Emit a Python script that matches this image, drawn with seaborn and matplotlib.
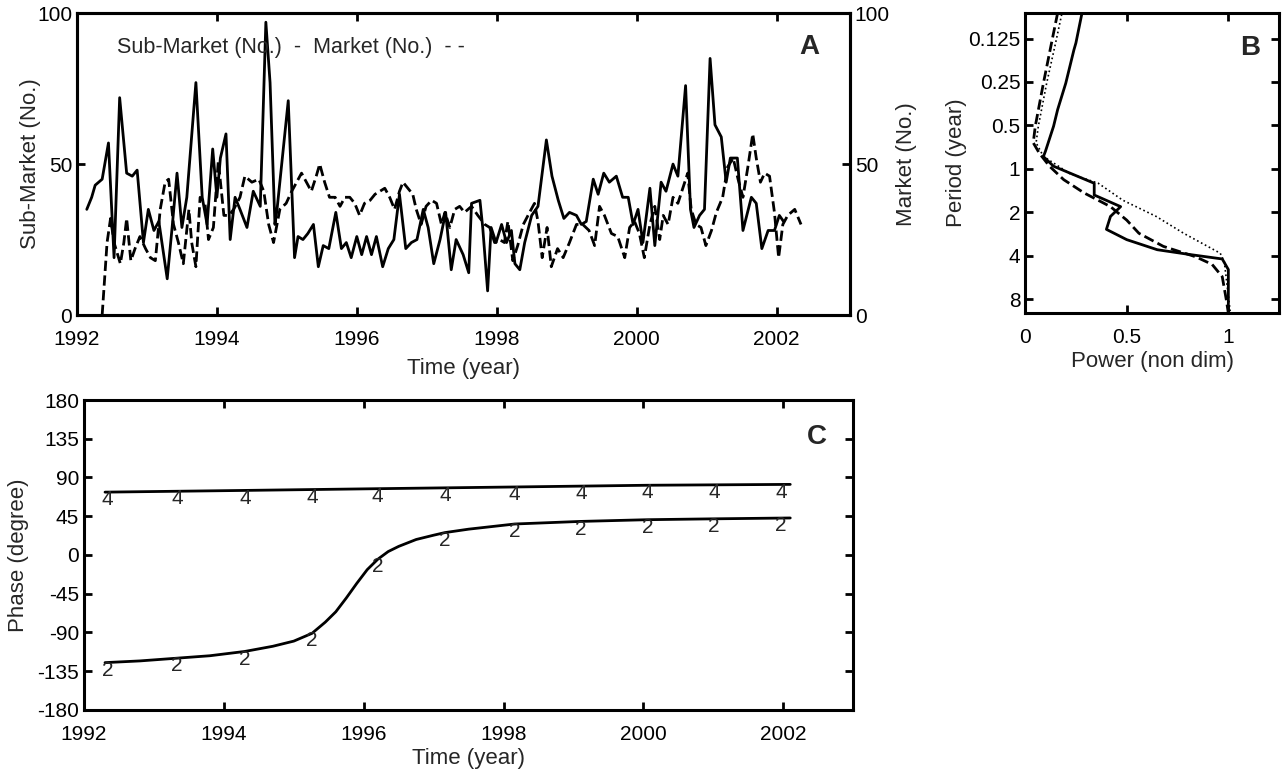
import numpy as np
import pandas as pd
import matplotlib
matplotlib.use('Agg')
import matplotlib.pyplot as plt
import seaborn as sns

# ---- Panel A: monthly counts ----
sub_time = [1992.14, 1992.21, 1992.26, 1992.36, 1992.45, 1992.53, 1992.61, 1992.71, 1992.79,
            1992.86, 1992.95, 1993.02, 1993.10, 1993.17, 1993.29, 1993.36, 1993.43, 1993.50,
            1993.57, 1993.70, 1993.79, 1993.86, 1993.94, 1994.00, 1994.05, 1994.13, 1994.19,
            1994.26, 1994.33, 1994.43, 1994.52, 1994.62, 1994.70, 1994.76, 1994.83, 1994.86,
            1995.02, 1995.11, 1995.16, 1995.23, 1995.30, 1995.38, 1995.45, 1995.52, 1995.60,
            1995.70, 1995.78, 1995.85, 1995.92, 1996.00, 1996.07, 1996.14, 1996.21, 1996.28,
            1996.37, 1996.45, 1996.53, 1996.61, 1996.70, 1996.78, 1996.86, 1996.95, 1997.02,
            1997.10, 1997.19, 1997.27, 1997.35, 1997.42, 1997.52, 1997.60, 1997.64, 1997.76,
            1997.80, 1997.87, 1997.92, 1997.99, 1998.07, 1998.14, 1998.21, 1998.26, 1998.33,
            1998.40, 1998.50, 1998.59, 1998.71, 1998.79, 1998.88, 1998.96, 1999.04, 1999.14,
            1999.21, 1999.28, 1999.38, 1999.45, 1999.53, 1999.61, 1999.71, 1999.80, 1999.88,
            1999.95, 2000.02, 2000.09, 2000.19, 2000.26, 2000.35, 2000.42, 2000.52, 2000.59,
            2000.70, 2000.77, 2000.82, 2000.90, 2000.97, 2001.05, 2001.12, 2001.21, 2001.28,
            2001.34, 2001.44, 2001.52, 2001.64, 2001.71, 2001.79, 2001.88, 2001.97, 2002.04,
            2002.10]
sub_vals = [35, 39, 43, 45, 57, 19, 72, 47, 46,
            48, 24, 35, 28, 31, 12, 29, 47, 29,
            39, 77, 39, 30, 55, 39, 52, 60, 25,
            39, 35, 29, 41, 36, 97, 77, 30, 35,
            71, 19, 26, 25, 27, 30, 16, 23, 22,
            34, 22, 24, 19, 26, 20, 26, 20, 26,
            16, 22, 25, 40, 22, 24, 25, 35, 29,
            17, 25, 34, 15, 25, 20, 14, 37, 38,
            29, 8, 29, 24, 30, 24, 28, 17, 15,
            24, 33, 36, 58, 46, 38, 32, 34, 33,
            30, 31, 45, 40, 47, 44, 46, 39, 39,
            30, 35, 24, 42, 23, 44, 41, 50, 46,
            76, 35, 29, 33, 35, 85, 63, 59, 44,
            52, 52, 28, 39, 37, 22, 28, 28, 33,
            31]

mkt_time = [1992.36, 1992.43, 1992.48, 1992.53, 1992.62, 1992.67, 1992.71, 1992.77, 1992.83,
            1992.90, 1992.98, 1993.05, 1993.12, 1993.19, 1993.26, 1993.31, 1993.38, 1993.45,
            1993.52, 1993.60, 1993.64, 1993.70, 1993.76, 1993.83, 1993.88, 1993.95, 1994.02,
            1994.10, 1994.17, 1994.24, 1994.33, 1994.40, 1994.50, 1994.60, 1994.67, 1994.74,
            1994.81, 1994.90, 1994.99, 1995.07, 1995.14, 1995.21, 1995.28, 1995.35, 1995.42,
            1995.47, 1995.54, 1995.61, 1995.69, 1995.76, 1995.83, 1995.90, 1995.97, 1996.04,
            1996.11, 1996.19, 1996.26, 1996.33, 1996.40, 1996.47, 1996.54, 1996.61, 1996.66,
            1996.73, 1996.80, 1996.85, 1996.92, 1996.99, 1997.07, 1997.14, 1997.21, 1997.26,
            1997.33, 1997.40, 1997.47, 1997.54, 1997.64, 1997.73, 1997.83, 1997.90, 1997.97,
            1998.04, 1998.11, 1998.16, 1998.23, 1998.30, 1998.38, 1998.47, 1998.54, 1998.59,
            1998.65, 1998.72, 1998.78, 1998.87, 1998.95, 1999.04, 1999.14, 1999.23, 1999.32,
            1999.40, 1999.47, 1999.54, 1999.64, 1999.73, 1999.83, 1999.90, 1999.97, 2000.04,
            2000.11, 2000.19, 2000.26, 2000.33, 2000.38, 2000.45, 2000.52, 2000.59,
            2000.66, 2000.73, 2000.78, 2000.85, 2000.92, 2000.99, 2001.07, 2001.14, 2001.23,
            2001.30, 2001.38, 2001.45, 2001.52, 2001.59, 2001.66, 2001.71, 2001.77, 2001.83,
            2001.90, 2001.97, 2002.03, 2002.09, 2002.16, 2002.26, 2002.35]
mkt_vals = [0, 24, 32, 24, 17, 24, 32, 18, 22,
            26, 22, 19, 18, 35, 44, 45, 30, 24,
            17, 35, 24, 16, 39, 37, 25, 29, 51,
            33, 33, 35, 39, 46, 44, 45, 41, 30,
            24, 35, 37, 41, 44, 47, 44, 41, 46,
            50, 44, 39, 39, 36, 39, 39, 37, 33,
            37, 38, 40, 41, 42, 39, 35, 41, 44,
            42, 40, 35, 30, 36, 38, 37, 30, 34,
            29, 35, 36, 34, 36, 33, 30, 29, 24,
            25, 24, 31, 18, 23, 30, 34, 37, 31,
            19, 29, 16, 22, 19, 24, 30, 30, 28,
            23, 36, 33, 27, 26, 19, 29, 31, 27,
            19, 30, 36, 25, 33, 30, 39, 37,
            42, 47, 35, 30, 29, 23, 28, 34, 39,
            49, 52, 45, 39, 49, 60, 52, 44, 47,
            46, 34, 19, 30, 33, 35, 30]

# ---- Panel B: normalised power vs period ----
solid_period = [0.083, 0.134, 0.15, 0.255, 0.389, 0.507, 0.756, 0.823, 0.96, 1.26, 1.52,
                1.83, 2.14, 2.63, 3.1, 3.64, 3.93, 4.22, 5.0, 8.1, 10.0]
solid_power = [0.28, 0.25, 0.24, 0.20, 0.16, 0.14, 0.10, 0.09, 0.14, 0.34, 0.34,
               0.47, 0.42, 0.40, 0.50, 0.65, 0.81, 0.97, 1.0, 1.0, 1.0]
dash_period = [0.083, 0.134, 0.255, 0.507, 0.66, 0.78, 0.96, 1.19, 1.47, 1.83, 2.27,
               2.8, 3.45, 4.08, 4.6, 5.6, 8.1, 10.0]
dash_power = [0.16, 0.13, 0.09, 0.05, 0.04, 0.07, 0.12, 0.19, 0.29, 0.42, 0.50,
              0.56, 0.68, 0.84, 0.92, 0.97, 0.99, 1.0]
dot_period = [0.085, 0.134, 0.255, 0.507, 0.66, 0.82, 1.08, 1.26, 1.65, 2.14, 2.8,
              3.85, 4.4, 7.6, 10.0]
dot_power = [0.18, 0.15, 0.106, 0.065, 0.054, 0.09, 0.22, 0.36, 0.48, 0.645, 0.78,
             0.96, 0.98, 1.0, 1.01]

# ---- Panel C: phase of the 4-year and 2-year components ----
p4_time = [1992.3, 1994.3, 1996.2, 1998.16, 2000.06, 2002.1]
p4_phase = [73, 75, 77, 79, 81, 82]
p2_time = [1992.3, 1992.8, 1993.3, 1993.8, 1994.3, 1994.7, 1995.0, 1995.26, 1995.45, 1995.6,
           1995.75, 1995.9, 1996.05, 1996.2, 1996.35, 1996.5, 1996.75, 1997.0, 1997.16,
           1997.5, 1998.16, 1999.1, 2000.06, 2001.0, 2002.1]
p2_phase = [-125, -123, -120, -117, -112, -106, -100, -91, -78, -66,
            -50, -33, -17, -5, 4, 10, 18, 23, 26,
            30, 36, 39, 41, 42, 43]
label_time = [1992.34, 1993.33, 1994.3, 1995.26, 1996.2, 1997.16, 1998.16, 1999.11,
              2000.06, 2001.01, 2001.97]

sns.set_style('ticks')
plt.rcParams['font.family'] = ['Liberation Sans', 'DejaVu Sans']
plt.rcParams['font.size'] = 15
plt.rcParams['axes.unicode_minus'] = False
plt.rcParams['xtick.direction'] = 'in'
plt.rcParams['ytick.direction'] = 'in'
plt.rcParams['xtick.major.size'] = 6
plt.rcParams['ytick.major.size'] = 6
plt.rcParams['xtick.major.width'] = 2
plt.rcParams['ytick.major.width'] = 2
plt.rcParams['xtick.major.pad'] = 11
plt.rcParams['axes.linewidth'] = 2.2
plt.rcParams['axes.edgecolor'] = 'black'
plt.rcParams['xtick.color'] = 'black'
plt.rcParams['ytick.color'] = 'black'

fig = plt.figure(figsize=(12.83, 7.74), dpi=100)
axA = fig.add_axes([0.060, 0.593, 0.6025, 0.390])
axB = fig.add_axes([0.799, 0.5956, 0.198, 0.3874])
axC = fig.add_axes([0.0655, 0.0827, 0.5995, 0.4005])

lw = 2.0

# Panel A
sns.lineplot(x=sub_time, y=sub_vals, ax=axA, color='black', lw=lw,
             sort=False, estimator=None)
axA2 = axA.twinx()
sns.lineplot(x=mkt_time, y=mkt_vals, ax=axA2, color='black', lw=lw,
             linestyle='--', dashes=(2.6, 1.7), sort=False, estimator=None)
for ax in (axA, axA2):
    ax.set_ylim(0, 100)
    ax.set_yticks([0, 50, 100])
axA.set_xlim(1992, 2003.05)
axA.set_xticks([1992, 1994, 1996, 1998, 2000, 2002])
axA.tick_params(top=True, labelsize=15)
axA2.tick_params(labelsize=15)
axA.set_xlabel('Time (year)', fontsize=16, labelpad=6)
axA.set_ylabel('Sub-Market (No.)', fontsize=16)
axA.yaxis.set_label_coords(-0.047, 0.5)
axA2.set_ylabel('Market (No.)', fontsize=16)
axA.text(0.052, 0.887, 'Sub-Market (No.)  -  Market (No.)  - -', transform=axA.transAxes,
         ha='left', va='center', fontsize=15.5)
axA.text(0.948, 0.887, 'A', transform=axA.transAxes, ha='center', va='center',
         fontsize=20, fontweight='bold')

# Panel B
sns.lineplot(x=solid_power, y=solid_period, ax=axB, color='black', lw=lw,
             sort=False, estimator=None, orient='y')
sns.lineplot(x=dash_power, y=dash_period, ax=axB, color='black', lw=lw,
             linestyle='--', dashes=(3, 1.5), sort=False, estimator=None, orient='y')
sns.lineplot(x=dot_power, y=dot_period, ax=axB, color='black', lw=1.2,
             linestyle=':', sort=False, estimator=None, orient='y')
axB.set_yscale('log', base=2)
axB.set_ylim(10, 1 / 12)
axB.set_yticks([0.125, 0.25, 0.5, 1, 2, 4, 8])
axB.set_yticklabels(['0.125', '0.25', '0.5', '1', '2', '4', '8'])
axB.minorticks_off()
axB.set_xlim(0, 1.25)
axB.set_xticks([0, 0.5, 1])
axB.set_xticklabels(['0', '0.5', '1'])
axB.tick_params(top=True, right=True, labelsize=15)
axB.set_xlabel('Power (non dim)', fontsize=16, labelpad=3)
axB.set_ylabel('Period (year)', fontsize=16)
axB.yaxis.set_label_coords(-0.23, 0.5)
axB.text(0.887, 0.883, 'B', transform=axB.transAxes, ha='center', va='center',
         fontsize=20, fontweight='bold')

# Panel C
sns.lineplot(x=p4_time, y=p4_phase, ax=axC, color='black', lw=lw,
             sort=False, estimator=None)
sns.lineplot(x=p2_time, y=p2_phase, ax=axC, color='black', lw=lw,
             sort=False, estimator=None)
for t in label_time:
    axC.annotate('4', (t, np.interp(t, p4_time, p4_phase)), xytext=(0, -5.5),
                 textcoords='offset points', ha='center', va='center', fontsize=15)
    axC.annotate('2', (t, np.interp(t, p2_time, p2_phase)), xytext=(0, -5.5),
                 textcoords='offset points', ha='center', va='center', fontsize=15)
axC.set_xlim(1992, 2003)
axC.set_ylim(-180, 180)
axC.set_xticks([1992, 1994, 1996, 1998, 2000, 2002])
axC.set_yticks(np.arange(-180, 181, 45))
axC.tick_params(top=True, right=True, labelsize=15)
axC.set_xlabel('Time (year)', fontsize=16, labelpad=3)
axC.set_ylabel('Phase (degree)', fontsize=16)
axC.yaxis.set_label_coords(-0.0715, 0.5)
axC.text(0.953, 0.88, 'C', transform=axC.transAxes, ha='center', va='center',
         fontsize=20, fontweight='bold')

fig.savefig('out.png', dpi=100)
plt.close(fig)
